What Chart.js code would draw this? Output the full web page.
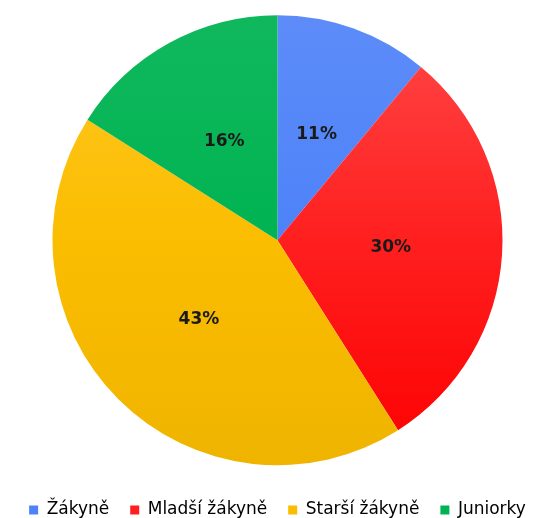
<!DOCTYPE html>
<html>
<head>
<meta charset="utf-8">
<script src="https://cdn.jsdelivr.net/npm/chart.js@4"></script>
<style>
  html, body { margin: 0; padding: 0; background: #fff; }
  #wrap { width: 555px; height: 518px; }
</style>
</head>
<body>
<div id="wrap"><canvas id="pie"></canvas></div>
<script>
const categories = ['Žákyně', 'Mladší žákyně', 'Starší žákyně', 'Juniorky'];
const shares = [11, 30, 43, 16];
const baseColors = ['#4d82f8', '#ff1f1f', '#fbbd00', '#00b352'];
const topColors = ['#5d8cf9', '#ff4848', '#ffc825', '#10b85d'];
const bottomColors = ['#4479f3', '#fd0000', '#efb400', '#00ad4e'];

function sliceFill(ctx) {
  const chart = ctx.chart;
  const area = chart.chartArea;
  if (!area) return baseColors[ctx.dataIndex];
  const g = chart.ctx.createLinearGradient(0, 15, 0, 465);
  g.addColorStop(0, topColors[ctx.dataIndex]);
  g.addColorStop(0.5, baseColors[ctx.dataIndex]);
  g.addColorStop(1, bottomColors[ctx.dataIndex]);
  return g;
}

const pctLabels = {
  id: 'pctLabels',
  afterDatasetsDraw(chart) {
    const c = chart.ctx;
    const meta = chart.getDatasetMeta(0);
    c.save();
    c.font = 'bold 17px "DejaVu Sans", sans-serif';
    c.fillStyle = '#1a1a1a';
    c.textAlign = 'center';
    c.textBaseline = 'middle';
    meta.data.forEach((arc, i) => {
      const p = arc.getCenterPoint();
      c.fillText(shares[i] + '%', p.x + 1, p.y);
    });
    c.restore();
  }
};

new Chart(document.getElementById('pie'), {
  type: 'pie',
  data: {
    labels: categories,
    datasets: [{
      data: shares,
      backgroundColor: sliceFill,
      borderWidth: 0,
      radius: 225
    }]
  },
  options: {
    responsive: true,
    maintainAspectRatio: false,
    animation: false,
    layout: { padding: { top: -0.5, bottom: -10.5 } },
    plugins: {
      tooltip: { enabled: false },
      legend: {
        position: 'bottom',
        labels: {
          boxWidth: 9,
          boxHeight: 9,
          padding: 21,
          color: '#1a1a1a',
          font: { family: '"DejaVu Sans", sans-serif', size: 17 },
          generateLabels(chart) {
            return categories.map((name, i) => ({
              text: name,
              fillStyle: baseColors[i],
              strokeStyle: baseColors[i],
              lineWidth: 0,
              index: i,
              hidden: false
            }));
          }
        }
      }
    }
  },
  plugins: [pctLabels]
});
</script>
</body>
</html>
